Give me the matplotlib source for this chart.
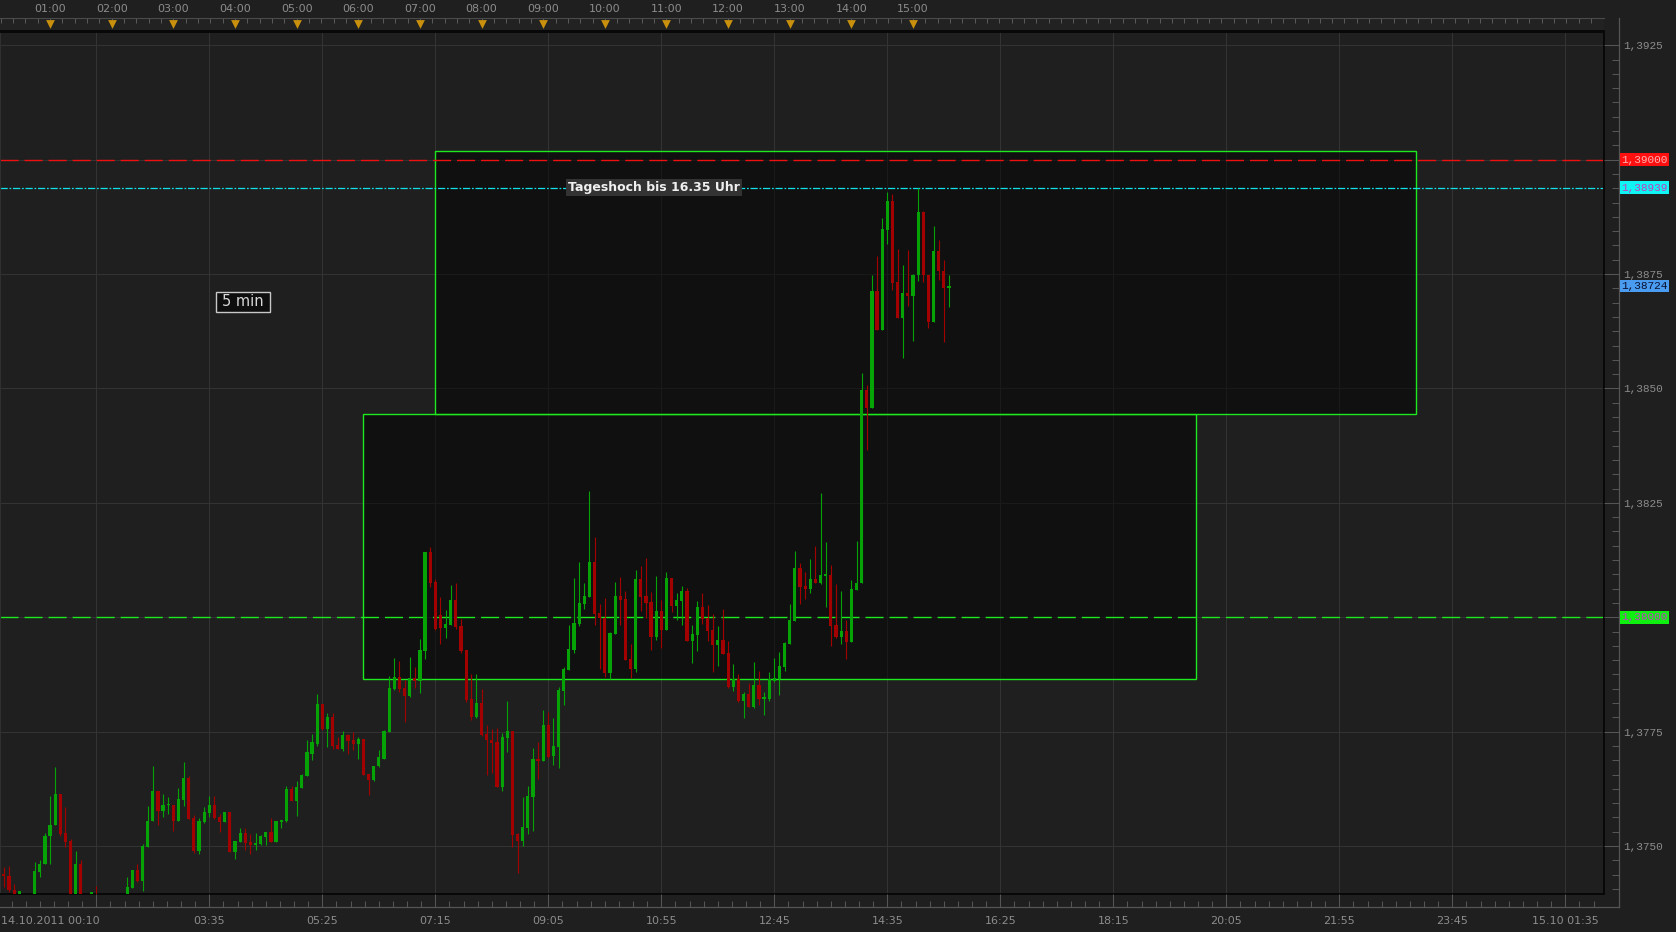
import matplotlib
matplotlib.use("Agg")
import matplotlib.pyplot as plt
import matplotlib.transforms as mtransforms
from matplotlib.lines import Line2D
from matplotlib.patches import Rectangle
import numpy as np

# ─── 5-min candles, 14.10.2011, first bar at 00:15 ───────────────────────────
first_bar = 15      # minutes after midnight
bar_step = 5

opens = [
    1.37437, 1.37435, 1.37405, 1.37390, 1.37388, 1.37368, 1.37380, 1.37444, 1.37460, 1.37521,
    1.37545, 1.37614, 1.37529, 1.37512, 1.37382, 1.37461, 1.37372, 1.37388, 1.37392, 1.37380,
    1.37370, 1.37378, 1.37366, 1.37374, 1.37385, 1.37409, 1.37448, 1.37424, 1.37499, 1.37554,
    1.37621, 1.37576, 1.37589, 1.37590, 1.37555, 1.37601, 1.37649, 1.37562, 1.37490, 1.37553,
    1.37573, 1.37590, 1.37564, 1.37553, 1.37575, 1.37488, 1.37509, 1.37529, 1.37509, 1.37502,
    1.37504, 1.37520, 1.37531, 1.37509, 1.37553, 1.37555, 1.37625, 1.37599, 1.37628, 1.37654,
    1.37702, 1.37724, 1.37810, 1.37755, 1.37782, 1.37720, 1.37713, 1.37742, 1.37731, 1.37722,
    1.37735, 1.37658, 1.37645, 1.37674, 1.37691, 1.37749, 1.37843, 1.37869, 1.37845, 1.37828,
    1.37867, 1.37861, 1.37927, 1.38142, 1.38078, 1.38004, 1.37977, 1.37984, 1.38037, 1.37982,
    1.37929, 1.37821, 1.37782, 1.37812, 1.37744, 1.37732, 1.37727, 1.37629, 1.37736, 1.37751,
    1.37526, 1.37511, 1.37539, 1.37607, 1.37690, 1.37686, 1.37765, 1.37697, 1.37716, 1.37839,
    1.37885, 1.37929, 1.37985, 1.38029, 1.38044, 1.38121, 1.38009, 1.37999, 1.37878, 1.37964,
    1.38047, 1.38040, 1.37909, 1.37887, 1.38084, 1.38047, 1.38034, 1.37957, 1.38014, 1.37972,
    1.38086, 1.38025, 1.38036, 1.38058, 1.37948, 1.37961, 1.38023, 1.37999, 1.37972, 1.37940,
    1.37950, 1.37922, 1.37848, 1.37865, 1.37818, 1.37832, 1.37805, 1.37853, 1.37822, 1.37821,
    1.37861, 1.37865, 1.37891, 1.37941, 1.37992, 1.38107, 1.38068, 1.38061, 1.38083, 1.38076,
    1.38090, 1.38093, 1.37983, 1.37958, 1.37970, 1.37947, 1.38059, 1.38074, 1.38497, 1.38457,
    1.38713, 1.38628, 1.38847, 1.38910, 1.38733, 1.38655, 1.38709, 1.38703, 1.38747, 1.38886,
    1.38749, 1.38646, 1.38801, 1.38757, 1.38720,
]
highs = [
    1.37455, 1.37457, 1.37417, 1.37402, 1.37392, 1.37388, 1.37466, 1.37470, 1.37529, 1.37610,
    1.37673, 1.37614, 1.37586, 1.37516, 1.37490, 1.37470, 1.37390, 1.37400, 1.37412, 1.37388,
    1.37384, 1.37386, 1.37380, 1.37389, 1.37432, 1.37448, 1.37461, 1.37505, 1.37588, 1.37676,
    1.37621, 1.37614, 1.37608, 1.37590, 1.37628, 1.37684, 1.37654, 1.37568, 1.37562, 1.37586,
    1.37610, 1.37610, 1.37571, 1.37575, 1.37575, 1.37512, 1.37540, 1.37540, 1.37526, 1.37529,
    1.37524, 1.37531, 1.37562, 1.37555, 1.37557, 1.37632, 1.37632, 1.37643, 1.37658, 1.37731,
    1.37744, 1.37832, 1.37810, 1.37790, 1.37790, 1.37738, 1.37751, 1.37746, 1.37749, 1.37738,
    1.37735, 1.37658, 1.37676, 1.37711, 1.37753, 1.37872, 1.37911, 1.37905, 1.37863, 1.37913,
    1.37891, 1.37953, 1.38142, 1.38153, 1.38083, 1.38045, 1.38017, 1.38070, 1.38076, 1.37997,
    1.37929, 1.37876, 1.37876, 1.37843, 1.37764, 1.37756, 1.37758, 1.37747, 1.37817, 1.37751,
    1.37528, 1.37607, 1.37631, 1.37714, 1.37727, 1.37797, 1.37793, 1.37780, 1.37848, 1.37891,
    1.37983, 1.38086, 1.38121, 1.38075, 1.38276, 1.38176, 1.38029, 1.38042, 1.37968, 1.38077,
    1.38088, 1.38058, 1.37942, 1.38103, 1.38112, 1.38130, 1.38055, 1.38090, 1.38038, 1.38099,
    1.38086, 1.38053, 1.38069, 1.38064, 1.37983, 1.38036, 1.38053, 1.38027, 1.38007, 1.37981,
    1.38018, 1.37948, 1.37899, 1.37877, 1.37836, 1.37857, 1.37903, 1.37882, 1.37836, 1.37880,
    1.37911, 1.37924, 1.37947, 1.38030, 1.38145, 1.38118, 1.38099, 1.38127, 1.38155, 1.38271,
    1.38164, 1.38114, 1.38073, 1.38057, 1.37993, 1.38081, 1.38166, 1.38534, 1.38508, 1.38749,
    1.38790, 1.38873, 1.38930, 1.38924, 1.38805, 1.38769, 1.38803, 1.38750, 1.38939, 1.38888,
    1.38749, 1.38855, 1.38825, 1.38781, 1.38749,
]
lows = [
    1.37410, 1.37400, 1.37380, 1.37385, 1.37360, 1.37360, 1.37375, 1.37433, 1.37460, 1.37460,
    1.37545, 1.37521, 1.37499, 1.37372, 1.37375, 1.37368, 1.37365, 1.37380, 1.37375, 1.37362,
    1.37358, 1.37360, 1.37355, 1.37365, 1.37380, 1.37409, 1.37421, 1.37402, 1.37499, 1.37554,
    1.37547, 1.37564, 1.37571, 1.37534, 1.37555, 1.37588, 1.37560, 1.37485, 1.37483, 1.37551,
    1.37564, 1.37560, 1.37531, 1.37553, 1.37488, 1.37472, 1.37509, 1.37492, 1.37482, 1.37491,
    1.37502, 1.37502, 1.37509, 1.37509, 1.37540, 1.37553, 1.37599, 1.37566, 1.37628, 1.37654,
    1.37689, 1.37718, 1.37753, 1.37716, 1.37713, 1.37713, 1.37707, 1.37702, 1.37709, 1.37691,
    1.37656, 1.37612, 1.37643, 1.37672, 1.37691, 1.37749, 1.37841, 1.37837, 1.37771, 1.37826,
    1.37845, 1.37834, 1.37909, 1.38067, 1.37973, 1.37942, 1.37955, 1.37984, 1.37975, 1.37922,
    1.37815, 1.37775, 1.37779, 1.37740, 1.37656, 1.37660, 1.37629, 1.37620, 1.37706, 1.37498,
    1.37441, 1.37500, 1.37526, 1.37533, 1.37647, 1.37686, 1.37692, 1.37677, 1.37671, 1.37808,
    1.37885, 1.37922, 1.37981, 1.38018, 1.38044, 1.37983, 1.37887, 1.37870, 1.37865, 1.37964,
    1.37983, 1.37907, 1.37867, 1.37880, 1.38014, 1.37999, 1.37929, 1.37950, 1.37933, 1.37972,
    1.38012, 1.37994, 1.37983, 1.37948, 1.37900, 1.37926, 1.37985, 1.37948, 1.37880, 1.37894,
    1.37920, 1.37845, 1.37840, 1.37815, 1.37780, 1.37805, 1.37802, 1.37808, 1.37786, 1.37817,
    1.37858, 1.37830, 1.37882, 1.37941, 1.37992, 1.38030, 1.38040, 1.38053, 1.38076, 1.38073,
    1.38023, 1.37937, 1.37954, 1.37942, 1.37908, 1.37947, 1.38059, 1.38074, 1.38366, 1.38457,
    1.38627, 1.38628, 1.38815, 1.38715, 1.38655, 1.38567, 1.38680, 1.38604, 1.38735, 1.38732,
    1.38632, 1.38646, 1.38738, 1.38601, 1.38677,
]
closes = [
    1.37434, 1.37403, 1.37385, 1.37402, 1.37370, 1.37382, 1.37446, 1.37461, 1.37523, 1.37547,
    1.37614, 1.37527, 1.37510, 1.37380, 1.37461, 1.37375, 1.37385, 1.37400, 1.37380, 1.37370,
    1.37378, 1.37366, 1.37374, 1.37386, 1.37411, 1.37448, 1.37424, 1.37501, 1.37555, 1.37621,
    1.37576, 1.37590, 1.37590, 1.37555, 1.37603, 1.37649, 1.37560, 1.37490, 1.37555, 1.37575,
    1.37590, 1.37562, 1.37553, 1.37575, 1.37488, 1.37512, 1.37529, 1.37507, 1.37502, 1.37507,
    1.37522, 1.37531, 1.37509, 1.37555, 1.37557, 1.37625, 1.37599, 1.37630, 1.37656, 1.37705,
    1.37727, 1.37810, 1.37755, 1.37782, 1.37718, 1.37713, 1.37742, 1.37729, 1.37722, 1.37735,
    1.37656, 1.37645, 1.37676, 1.37694, 1.37751, 1.37845, 1.37869, 1.37843, 1.37828, 1.37867,
    1.37861, 1.37929, 1.38142, 1.38076, 1.37975, 1.37977, 1.37986, 1.38037, 1.37979, 1.37927,
    1.37819, 1.37782, 1.37812, 1.37742, 1.37731, 1.37726, 1.37629, 1.37738, 1.37751, 1.37524,
    1.37511, 1.37542, 1.37609, 1.37690, 1.37686, 1.37765, 1.37695, 1.37719, 1.37841, 1.37887,
    1.37931, 1.37988, 1.38031, 1.38047, 1.38121, 1.38007, 1.37999, 1.37878, 1.37966, 1.38047,
    1.38038, 1.37907, 1.37887, 1.38084, 1.38044, 1.38031, 1.37957, 1.38014, 1.37972, 1.38086,
    1.38025, 1.38038, 1.38058, 1.37948, 1.37964, 1.38023, 1.37996, 1.37970, 1.37940, 1.37950,
    1.37920, 1.37848, 1.37865, 1.37818, 1.37832, 1.37805, 1.37853, 1.37821, 1.37823, 1.37865,
    1.37867, 1.37893, 1.37943, 1.37993, 1.38107, 1.38066, 1.38061, 1.38083, 1.38076, 1.38092,
    1.38093, 1.37980, 1.37958, 1.37970, 1.37947, 1.38061, 1.38076, 1.38497, 1.38457, 1.38713,
    1.38627, 1.38849, 1.38910, 1.38730, 1.38655, 1.38709, 1.38703, 1.38749, 1.38886, 1.38747,
    1.38646, 1.38801, 1.38756, 1.38720, 1.38724,
]

# ─── axis texts ──────────────────────────────────────────────────────────────
hour_minutes = [60, 120, 180, 240, 300, 360, 420, 480, 540, 600, 660, 720, 780, 840, 900]
hour_labels = ["01:00", "02:00", "03:00", "04:00", "05:00", "06:00", "07:00", "08:00",
               "09:00", "10:00", "11:00", "12:00", "13:00", "14:00", "15:00"]

grid_minutes = [105, 215, 325, 435, 545, 655, 765, 875, 985, 1095, 1205, 1315, 1425, 1535]
grid_labels = ["", "03:35", "05:25", "07:15", "09:05", "10:55", "12:45", "14:35",
               "16:25", "18:15", "20:05", "21:55", "23:45", "15.10 01:35"]
start_label = "14.10.2011 00:10"

price_ticks = [1.3750, 1.3775, 1.3800, 1.3825, 1.3850, 1.3875, 1.3900, 1.3925]
price_labels = ["1,3750", "1,3775", "1,3800", "1,3825", "1,3850", "1,3875", "1,3900", "1,3925"]

# horizontal levels: resistance, day high, support
level_prices = [1.39000, 1.38939, 1.38000]
level_texts = ["1,39000", "1,38939", "1,38000"]
last_price, last_text = 1.38724, "1,38724"

# range boxes: (start min, end min, low, high)
box_upper = (435, 1390, 1.38444, 1.39019)
box_lower = (365, 1175, 1.37865, 1.38444)

# ─── layout (pixels) ─────────────────────────────────────────────────────────
W, H = 1676, 932
BG = "#1f1f1f"
GREEN_UP, RED_DN = "#06a306", "#a30000"
LEVEL_GREEN = "#1ee81e"
TXT = "#8c8c8c"

fig = plt.figure(figsize=(W / 100, H / 100), dpi=100, facecolor=BG)


def px_rect(x0, y0, x1, y1):
    return [x0 / W, 1 - y1 / H, (x1 - x0) / W, (y1 - y0) / H]


def px_line(xs, ys, **kw):
    fig.add_artist(Line2D([x / W for x in xs], [1 - y / H for y in ys],
                          transform=fig.transFigure, **kw))


XLIM = (11.25, 1572.6)
YLIM = (1.373953, 1.39279)

ax = fig.add_axes(px_rect(0, 32, 1604, 894))
axb = fig.add_axes(px_rect(0, 894, 1604, 907))
axr = fig.add_axes(px_rect(1604, 32, 1619, 894))
axt = fig.add_axes(px_rect(0, 18, 1604, 31))

# ─── main plot ───────────────────────────────────────────────────────────────
ax.set_facecolor(BG)
ax.set_xticks(grid_minutes)
ax.set_yticks(price_ticks)
ax.set_xlim(*XLIM)
ax.set_ylim(*YLIM)
ax.tick_params(length=0, labelbottom=False, labelleft=False)
ax.grid(True, color="#333333", linewidth=0.75)
ax.set_axisbelow(True)
for side in ("top", "right", "bottom"):
    ax.spines[side].set_color("#080808")
    ax.spines[side].set_linewidth(1.4)
ax.spines["left"].set_color("#303030")

for t0, t1, lo, hi in (box_lower, box_upper):
    ax.add_patch(Rectangle((t0, lo), t1 - t0, hi - lo, facecolor=(0, 0, 0, 0.48),
                           edgecolor=LEVEL_GREEN, linewidth=1.0, zorder=1))

ax.axhline(level_prices[0], color="#ee1010", linewidth=1.0, dashes=(13, 4.3), zorder=2)
ax.axhline(level_prices[1], color="#10e0e8", linewidth=0.9,
           dashes=(5.8, 1.4, 1.4, 1.4), zorder=2)
ax.axhline(level_prices[2], color=LEVEL_GREEN, linewidth=1.0, dashes=(13, 4.3), zorder=2)

o = np.array(opens)
h = np.array(highs)
l = np.array(lows)
c = np.array(closes)
t = first_bar + bar_step * np.arange(len(o))
cols = np.where(c >= o, GREEN_UP, RED_DN)
ax.vlines(t, l, h, colors=cols, linewidth=0.8, zorder=3)
body = np.maximum(np.abs(c - o), 0.00004)
ax.bar(t, body, bottom=np.minimum(o, c), width=3.1, color=cols, linewidth=0, zorder=3)

ax.text(564, level_prices[1], "Tageshoch bis 16.35 Uhr", color="#f0f0f0", fontsize=9,
        fontweight="bold", va="center", ha="left", zorder=5,
        bbox=dict(boxstyle="square,pad=0.15", facecolor="#333333", edgecolor="none"))

# ─── bottom time axis ────────────────────────────────────────────────────────
axb.patch.set_visible(False)
for s in axb.spines.values():
    s.set_visible(False)
axb.set_yticks([])
axb.set_xticks(grid_minutes)
axb.set_xticklabels(grid_labels)
axb.set_xticks(np.arange(105 - 6 * 13.75, 1570, 13.75), minor=True)
axb.set_xlim(*XLIM)
axb.set_ylim(0, 1)
axb.tick_params(axis="x", which="major", direction="in", length=9.4, width=0.75,
                color="#555555", pad=6.5, labelsize=8, labelcolor=TXT)
axb.tick_params(axis="x", which="minor", direction="in", length=4.3, width=0.75,
                color="#555555")
fig.text(1 / W, 1 - 921 / H, start_label, color=TXT, fontsize=8, ha="left", va="center")

# ─── right price axis ────────────────────────────────────────────────────────
axr.patch.set_visible(False)
for s in axr.spines.values():
    s.set_visible(False)
axr.set_xticks([])
axr.yaxis.tick_right()
axr.set_yticks(price_ticks)
axr.set_yticklabels(price_labels, family="Liberation Mono")
axr.set_yticks(np.arange(1.3725, 1.3935, 0.0025 / 8), minor=True)
axr.set_ylim(*YLIM)
axr.set_xlim(0, 1)
axr.tick_params(axis="y", which="major", direction="in", length=10.8, width=0.75,
                color="#555555", pad=3, labelsize=8, labelcolor=TXT)
axr.tick_params(axis="y", which="minor", direction="in", length=5.4, width=0.75,
                color="#555555")
# tick labels sitting under a level marker are hidden by it in the terminal
for tick_val, lab in zip(price_ticks, axr.get_yticklabels()):
    if min(abs(tick_val - p) for p in level_prices) < 0.0002:
        lab.set_visible(False)

px_line([1619, 1619], [18, 907], color="#555555", linewidth=0.9)
px_line([0, 1619], [907, 907], color="#555555", linewidth=0.9)

# price labels on the right axis
lab_tr = mtransforms.blended_transform_factory(fig.transFigure, ax.transData)
label_styles = [("#ff1010", "#ffb0b0"), ("#10f4f4", "#c040c0"), ("#10f010", "#c040c0")]
for price, text, (fc, tc) in zip(level_prices, level_texts, label_styles):
    fig.text(1621 / W, price, text, transform=lab_tr, family="Liberation Mono",
             fontsize=8, color=tc, ha="left", va="center", zorder=6,
             bbox=dict(boxstyle="square,pad=0.12", facecolor=fc, edgecolor="none"))
fig.text(1621 / W, last_price, last_text, transform=lab_tr, family="Liberation Mono",
         fontsize=8, color="#0a1030", ha="left", va="center", zorder=6,
         bbox=dict(boxstyle="square,pad=0.12", facecolor="#4a9cf0", edgecolor="none"))

# ─── top hour axis ───────────────────────────────────────────────────────────
axt.set_facecolor("#222222")
axt.set_yticks([])
axt.set_xticks([])
axt.set_xticks(np.arange(12, 1572, 12), minor=True)
axt.set_xlim(*XLIM)
axt.set_ylim(0, 1)
axt.tick_params(axis="x", which="minor", top=True, bottom=False, direction="in",
                length=3.5, width=0.7, color="#5a5a5a")
axt.spines["left"].set_visible(False)
axt.spines["right"].set_visible(False)
axt.spines["top"].set_color("#4a4a4a")
axt.spines["top"].set_linewidth(0.8)
axt.spines["bottom"].set_color("#080808")
axt.spines["bottom"].set_linewidth(1.4)
axt.scatter(hour_minutes, [0.55] * len(hour_minutes), marker="v", s=40,
            color="#c8900c", linewidths=0, zorder=3)
for m, lab in zip(hour_minutes, hour_labels):
    axt.text(m, 1.66, lab, color=TXT, fontsize=8, ha="center", va="center", clip_on=False)

# ─── timeframe badge ─────────────────────────────────────────────────────────
fig.add_artist(Rectangle((216 / W, 1 - 312 / H), 54 / W, 20 / H, transform=fig.transFigure,
                         facecolor="#0e0e0e", edgecolor="#c8c8c8", linewidth=1.0))
fig.text(243 / W, 1 - 302 / H, "5 min", color="#d8d8d8", fontsize=10.5,
         ha="center", va="center")

fig.savefig("out.png", dpi=100, facecolor=BG)
